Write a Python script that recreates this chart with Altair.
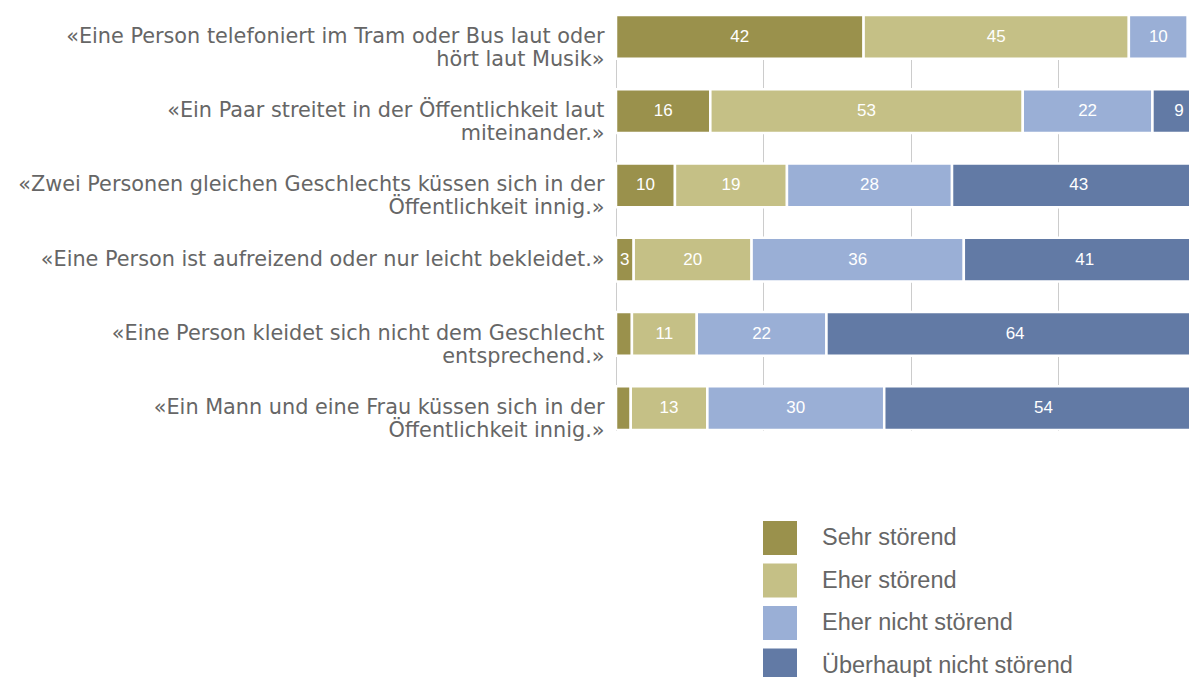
import altair as alt
import pandas as pd

categories = [
    "«Eine Person telefoniert im Tram oder Bus laut oder|hört laut Musik»",
    "«Ein Paar streitet in der Öffentlichkeit laut|miteinander.»",
    "«Zwei Personen gleichen Geschlechts küssen sich in der|Öffentlichkeit innig.»",
    "«Eine Person ist aufreizend oder nur leicht bekleidet.»",
    "«Eine Person kleidet sich nicht dem Geschlecht|entsprechend.»",
    "«Ein Mann und eine Frau küssen sich in der|Öffentlichkeit innig.»",
]
series = ["Sehr störend", "Eher störend", "Eher nicht störend", "Überhaupt nicht störend"]
colors = ["#9a914c", "#c5c086", "#9aafd6", "#627aa5"]

sehr = [42, 16, 10, 3, 2.7, 2.5]
eher = [45, 53, 19, 20, 11, 13]
eher_nicht = [10, 22, 28, 36, 22, 30]
ueberhaupt = [3, 9, 43, 41, 64, 54]

rows = []
for i, cat in enumerate(categories):
    for j, (s, vals) in enumerate(zip(series, [sehr, eher, eher_nicht, ueberhaupt])):
        rows.append({"cat": cat, "series": s, "value": vals[i], "order": j})
df = pd.DataFrame(rows)

y_enc = alt.Y(
    "cat:N",
    sort=categories,
    scale=alt.Scale(paddingInner=0.41, paddingOuter=0),
    axis=alt.Axis(
        title=None,
        ticks=False,
        domain=False,
        labelExpr="split(datum.label, '|')",
        labelFontSize=20.8,
        labelColor="#666666",
        labelFont="DejaVu Sans",
        labelLineHeight=23,
        labelPadding=12,
        labelLimit=700,
        labelAlign="right",
        labelBaseline="middle",
    ),
)

xscale = alt.Scale(domain=[0, 97.2], nice=False, zero=True)

base = alt.Chart(df).transform_stack(
    stack="value",
    groupby=["cat"],
    as_=["x0", "x1"],
    sort=[alt.SortField("order", order="ascending")],
).transform_calculate(mid="(datum.x0 + datum.x1) / 2")

bars = base.mark_bar(stroke="white", strokeWidth=2.5, clip=True).encode(
    y=y_enc,
    x=alt.X(
        "x0:Q",
        scale=xscale,
        axis=alt.Axis(
            title=None,
            values=[0, 25, 50, 75, 100],
            labels=False,
            ticks=False,
            domain=False,
            grid=True,
            gridColor="#cccccc",
            gridWidth=1,
        ),
    ),
    x2="x1:Q",
    color=alt.Color(
        "series:N",
        sort=series,
        scale=alt.Scale(domain=series, range=colors),
        legend=alt.Legend(
            title=None,
            orient="none",
            legendX=147,
            legendY=506,
            padding=0,
            symbolType="square",
            symbolSize=1156,
            symbolStrokeWidth=0,
            symbolOpacity=1,
            labelFontSize=23.5,
            labelFont="Liberation Sans",
            labelColor="#666666",
            labelOffset=25,
            rowPadding=8.5,
            labelLimit=400,
        ),
    ),
    order=alt.Order("order:Q"),
)

labels = base.transform_filter("datum.value >= 3 && datum.mid < 97").mark_text(
    color="white", fontSize=17, font="Liberation Sans", clip=True
).encode(
    y=alt.Y("cat:N", sort=categories),
    x=alt.X("mid:Q", scale=xscale),
    text=alt.Text("value:Q", format=".0f"),
)

chart = (
    alt.layer(bars, labels)
    .properties(
        width=573,
        height=415,
        autosize=alt.AutoSizeParams(type="none"),
        padding={"left": 608, "top": 7, "right": 0, "bottom": 247},
    )
    .configure_view(stroke=None)
)

chart.save("out.html", embed_options={"renderer": "svg", "actions": False})
